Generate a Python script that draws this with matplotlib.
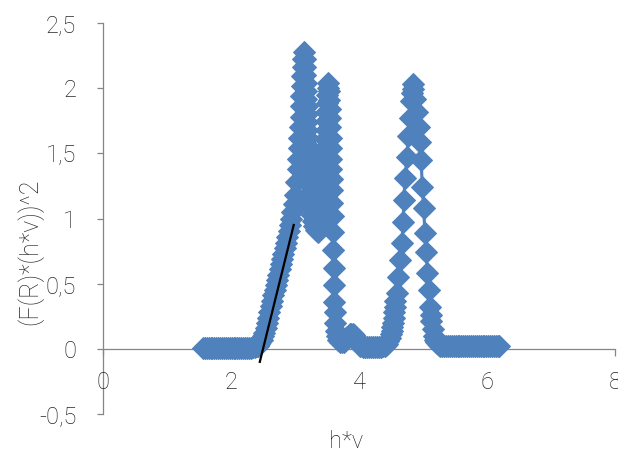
import matplotlib
matplotlib.use("Agg")
import matplotlib.pyplot as plt

# ---- data ----
# flat start
hv_a = [1.56, 1.59, 1.62, 1.65, 1.68, 1.71, 1.74, 1.77, 1.80, 1.83, 1.86, 1.89,
        1.92, 1.95, 1.98, 2.01, 2.04, 2.07, 2.10, 2.13, 2.16, 2.19, 2.22, 2.25,
        2.28, 2.31, 2.34, 2.37]
y_a = [0.004, 0.004, 0.004, 0.004, 0.004, 0.004, 0.004, 0.004, 0.004, 0.004, 0.004, 0.004,
       0.004, 0.004, 0.004, 0.004, 0.004, 0.005, 0.005, 0.005, 0.005, 0.006, 0.006, 0.007,
       0.008, 0.009, 0.011, 0.014]
# absorption edge
hv_b = [2.40, 2.42, 2.44, 2.46, 2.48, 2.50, 2.52, 2.54, 2.56, 2.58, 2.60, 2.62,
        2.64, 2.66, 2.68, 2.70, 2.72, 2.74, 2.76, 2.78, 2.80, 2.82, 2.84, 2.86,
        2.88, 2.90, 2.92, 2.94, 2.96, 2.98, 3.00]
y_b = [0.018, 0.025, 0.035, 0.05, 0.07, 0.095, 0.125, 0.16, 0.20, 0.24, 0.28, 0.325,
       0.37, 0.41, 0.45, 0.49, 0.53, 0.57, 0.61, 0.65, 0.69, 0.73, 0.77, 0.815,
       0.86, 0.905, 0.95, 1.00, 1.05, 1.11, 1.18]
# first and second peak
hv_c = [3.02, 3.04, 3.05, 3.06, 3.07, 3.08, 3.09, 3.095, 3.10, 3.105, 3.11, 3.12,
        3.13, 3.14,
        3.150, 3.155, 3.160, 3.165, 3.170, 3.175, 3.180, 3.185, 3.190, 3.195, 3.200, 3.205,
        3.210, 3.215, 3.220, 3.225, 3.230, 3.235, 3.24, 3.25, 3.26, 3.28, 3.30, 3.33,
        3.36,
        3.38, 3.40, 3.42, 3.43, 3.44, 3.45, 3.455, 3.46, 3.465, 3.47, 3.475, 3.48,
        3.485, 3.49, 3.495, 3.50, 3.51, 3.52,
        3.53, 3.535, 3.54, 3.545, 3.55, 3.555, 3.56, 3.565, 3.57, 3.575, 3.58, 3.585,
        3.59, 3.595, 3.60, 3.605, 3.61, 3.615, 3.62, 3.625, 3.635, 3.65, 3.67, 3.70,
        3.73]
y_c = [1.28, 1.38, 1.46, 1.54, 1.62, 1.70, 1.78, 1.86, 1.94, 2.02, 2.09, 2.16,
       2.22, 2.28,
       2.22, 2.16, 2.10, 2.04, 1.98, 1.92, 1.86, 1.80, 1.74, 1.68, 1.62, 1.56,
       1.50, 1.44, 1.38, 1.32, 1.26, 1.20, 1.14, 1.08, 1.03, 0.98, 0.94, 0.91,
       0.90,
       0.93, 0.98, 1.05, 1.12, 1.19, 1.26, 1.33, 1.40, 1.47, 1.54, 1.61, 1.68,
       1.75, 1.82, 1.89, 1.95, 2.00, 2.04,
       1.98, 1.91, 1.84, 1.77, 1.70, 1.62, 1.54, 1.46, 1.38, 1.30, 1.22, 1.12,
       1.02, 0.90, 0.76, 0.62, 0.49, 0.36, 0.28, 0.20, 0.14, 0.10, 0.07, 0.055,
       0.05]
# small bump and valley
hv_d = [3.76, 3.78, 3.80, 3.82, 3.84, 3.86, 3.88, 3.90, 3.92, 3.94, 3.96, 3.98,
        4.00, 4.02, 4.04, 4.07, 4.10, 4.13, 4.16, 4.19, 4.22, 4.25, 4.28, 4.31,
        4.34, 4.37]
y_d = [0.055, 0.065, 0.08, 0.09, 0.10, 0.11, 0.115, 0.115, 0.105, 0.09, 0.07, 0.05,
       0.035, 0.025, 0.018, 0.014, 0.012, 0.012, 0.012, 0.012, 0.012, 0.013, 0.013, 0.014,
       0.016, 0.019]
# third peak
hv_e = [4.40, 4.42, 4.44, 4.46, 4.48, 4.50, 4.51, 4.52, 4.53, 4.54, 4.55, 4.56,
        4.57, 4.59, 4.61, 4.64, 4.67, 4.69, 4.70, 4.72, 4.75, 4.77, 4.80, 4.82,
        4.83, 4.84,
        4.85, 4.87, 4.90, 4.93, 4.95, 4.97, 4.99, 5.01, 5.03, 5.05, 5.07, 5.09,
        5.11, 5.12, 5.13, 5.15, 5.17, 5.19, 5.21, 5.23, 5.25, 5.27]
y_e = [0.022, 0.03, 0.04, 0.06, 0.08, 0.11, 0.14, 0.17, 0.20, 0.24, 0.28, 0.32,
       0.37, 0.43, 0.55, 0.68, 0.81, 0.97, 1.14, 1.31, 1.47, 1.63, 1.77, 1.90,
       1.96, 2.03,
       1.99, 1.92, 1.82, 1.70, 1.59, 1.45, 1.24, 1.08, 0.89, 0.74, 0.58, 0.45,
       0.32, 0.26, 0.21, 0.15, 0.10, 0.07, 0.05, 0.04, 0.03, 0.025]
# flat end
hv_f = [5.30, 5.33, 5.36, 5.39, 5.42, 5.45, 5.48, 5.51, 5.54, 5.57, 5.60, 5.63,
        5.66, 5.69, 5.72, 5.75, 5.78, 5.81, 5.84, 5.87, 5.90, 5.93, 5.96, 5.99,
        6.02, 6.05, 6.08, 6.11, 6.14, 6.17, 6.19]
y_f = [0.022, 0.02, 0.02, 0.02, 0.02, 0.02, 0.02, 0.02, 0.02, 0.02, 0.02, 0.02,
       0.02, 0.02, 0.02, 0.02, 0.02, 0.02, 0.02, 0.02, 0.02, 0.02, 0.02, 0.02,
       0.02, 0.02, 0.02, 0.02, 0.02, 0.02, 0.02]

hv = hv_a + hv_b + hv_c + hv_d + hv_e + hv_f
tauc = y_a + y_b + y_c + y_d + y_e + y_f

tangent_x = [2.45, 2.98]
tangent_y = [-0.10, 0.95]

x_ticks = [0, 2, 4, 6, 8]
y_ticks = [-0.5, 0, 0.5, 1, 1.5, 2, 2.5]
y_tick_labels = ["-0,5", "0", "0,5", "1", "1,5", "2", "2,5"]

x_title = "h*v"
y_title = "(F(R)*(h*v))^2"

# ---- figure ----
plt.rcParams['font.family'] = ['Roboto', 'DejaVu Sans']
W, H = 618, 457
fig = plt.figure(figsize=(W / 100, H / 100), dpi=100)
ax = fig.add_axes([103 / W, (H - 414) / H, 512 / W, 391 / H])

blue = "#4F81BD"
ax.plot(hv, tauc, color=blue, lw=2.25, marker="D", markersize=11.0,
        markerfacecolor=blue, markeredgecolor=blue, markeredgewidth=0.75,
        zorder=3, clip_on=False)
ax.plot(tangent_x, tangent_y, color="black", lw=1.6, zorder=4)

ax.set_xlim(0, 8)
ax.set_ylim(-0.5, 2.5)

for s in ("top", "right"):
    ax.spines[s].set_visible(False)
ax.spines["left"].set_position(("data", 0))
ax.spines["bottom"].set_position(("data", 0))
axis_col = "#868686"
for s in ("left", "bottom"):
    ax.spines[s].set_color(axis_col)
    ax.spines[s].set_linewidth(0.9)
    ax.spines[s].set_zorder(1)

ax.set_xticks(x_ticks)
ax.set_xticklabels([str(t) for t in x_ticks])
ax.set_yticks(y_ticks)
ax.set_yticklabels(y_tick_labels)

ax.tick_params(axis="y", direction="out", length=4.3, width=0.9, color=axis_col,
               pad=15, labelsize=17, labelcolor="#262626")
ax.tick_params(axis="x", direction="out", length=5, width=0.9, color=axis_col,
               pad=11, labelsize=17, labelcolor="#262626")
for lab in ax.get_xticklabels() + ax.get_yticklabels():
    lab.set_fontweight("light")

fig.text(346 / W, 1 - 442 / H, x_title, ha="center", va="center",
         fontsize=17, fontweight="light", color="#262626")
fig.text(30 / W, 1 - 252 / H, y_title, ha="center", va="center", rotation=90,
         fontsize=18, fontweight="light", color="#262626")

fig.savefig("out.png", dpi=100)
